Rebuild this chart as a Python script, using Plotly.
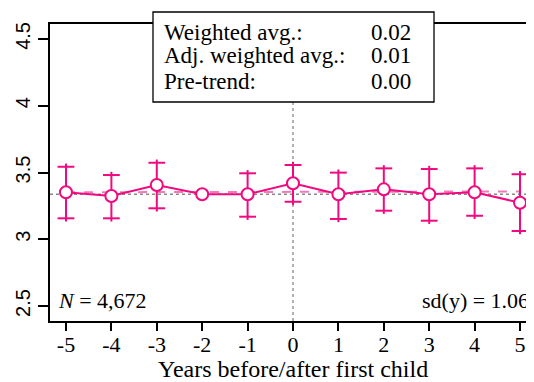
import plotly.graph_objects as go

# ---- data ----
years = [-5, -4, -3, -2, -1, 0, 1, 2, 3, 4, 5]
estimate = [3.352, 3.324, 3.406, 3.337, 3.337, 3.419, 3.337, 3.374, 3.337, 3.352, 3.274]
ci_upper = [3.543, 3.481, 3.573, None, 3.494, 3.556, 3.499, 3.531, 3.526, 3.531, 3.487]
ci_lower = [3.157, 3.157, 3.232, None, 3.169, 3.281, 3.152, 3.214, 3.139, 3.176, 3.062]
reference_level = 3.337
trend_x = [-5, 5]
trend_y = [3.352, 3.358]
x_tick_vals = [-5, -4, -3, -2, -1, 0, 1, 2, 3, 4, 5]
x_tick_text = ["-5", "-4", "-3", "-2", "-1", "0", "1", "2", "3", "4", "5"]
y_tick_vals = [2.5, 3, 3.5, 4, 4.5]
y_tick_text = ["2.5", "3", "3.5", "4", "4.5"]
stat_labels = ["Weighted avg.:", "Adj. weighted avg.:", "Pre-trend:"]
stat_values = ["0.02", "0.01", "0.00"]
n_label = "<i>N</i> = 4,672"
sd_label = "sd(y) = 1.06"

PINK = "#F00A80"
SERIF = "Liberation Serif"
SANS = "Liberation Sans"
EXT = 0.024  # small overshoot of CI line past the cross-bar

ex, ey, up, dn, cx, cy = [], [], [], [], [], []
for x, y, hi, lo in zip(years, estimate, ci_upper, ci_lower):
    if hi is None:
        continue
    ex.append(x); ey.append(y)
    up.append(hi - y + EXT); dn.append(y - lo + EXT)
    cx += [x, x]; cy += [hi, lo]

fig = go.Figure()
# trend dashed line
fig.add_trace(go.Scatter(x=trend_x, y=trend_y, mode="lines",
                         line=dict(color="#F27AB8", width=2, dash="dash"),
                         showlegend=False, hoverinfo="skip"))
# CI vertical lines
fig.add_trace(go.Scatter(x=ex, y=ey, mode="markers", marker=dict(size=0.1, color=PINK, opacity=0),
                         error_y=dict(type="data", array=up, arrayminus=dn, symmetric=False,
                                      color=PINK, thickness=2, width=0),
                         showlegend=False, hoverinfo="skip"))
# CI cross-bars
fig.add_trace(go.Scatter(x=cx, y=cy, mode="markers",
                         marker=dict(symbol="line-ew", size=12, line=dict(color=PINK, width=2)),
                         showlegend=False, hoverinfo="skip"))
# estimates
fig.add_trace(go.Scatter(x=years, y=estimate, mode="lines+markers",
                         line=dict(color=PINK, width=2),
                         marker=dict(symbol="circle", size=12, color="white",
                                     line=dict(color=PINK, width=2)),
                         showlegend=False))

shapes = [
    dict(type="line", xref="x", yref="paper", x0=0, x1=0, y0=0, y1=1,
         line=dict(color="#888888", width=1.3, dash="dot"), layer="below"),
    dict(type="line", xref="paper", yref="y", x0=0, x1=1, y0=reference_level, y1=reference_level,
         line=dict(color="#888888", width=1.3, dash="dot"), layer="below"),
    dict(type="rect", xref="paper", yref="paper", x0=0.2128, x1=0.7934, y0=0.7374, y1=1.0404,
         line=dict(color="black", width=1.3), fillcolor="white", layer="above"),
]

annotations = []
line_y = [40, 63, 88]
for lab, val, by in zip(stat_labels, stat_values, line_y):
    py = (321 - (by - 7)) / 297
    annotations.append(dict(xref="paper", yref="paper", x=(162 - 50) / 484, y=py,
                            xanchor="left", yanchor="middle", text=lab, showarrow=False,
                            font=dict(family=SERIF, size=23, color="black")))
    annotations.append(dict(xref="paper", yref="paper", x=(413 - 50) / 484, y=py,
                            xanchor="right", yanchor="middle", text=val, showarrow=False,
                            font=dict(family=SERIF, size=23, color="black")))
annotations.append(dict(xref="paper", yref="paper", x=(56 - 50) / 484, y=(321 - 300) / 297,
                        xanchor="left", yanchor="middle", text=n_label, showarrow=False,
                        font=dict(family=SERIF, size=22, color="black")))
annotations.append(dict(xref="paper", yref="paper", x=(531 - 50) / 484, y=(321 - 300) / 297,
                        xanchor="right", yanchor="middle", text=sd_label, showarrow=False,
                        font=dict(family=SERIF, size=22, color="black")))
annotations.append(dict(xref="paper", yref="paper", x=(293 - 50) / 484, y=0,
                        xanchor="center", yanchor="middle", yshift=-48,
                        text="Years before/after first child", showarrow=False,
                        font=dict(family=SERIF, size=24, color="black")))

# page body has an 8px default margin, so the figure is sized 8px smaller
fig.update_layout(
    width=526, height=374,
    margin=dict(l=42, r=0, t=16, b=61),
    paper_bgcolor="white", plot_bgcolor="white",
    shapes=shapes, annotations=annotations,
    showlegend=False,
    xaxis=dict(range=[-5.352, 5.308], tickvals=x_tick_vals, ticktext=x_tick_text,
               showgrid=False, zeroline=False, showline=True, mirror=True,
               linecolor="black", linewidth=1.5, ticks="outside", ticklen=8,
               tickwidth=1.5, tickcolor="black", ticklabelstandoff=-5,
               tickfont=dict(family=SERIF, size=22, color="black")),
    yaxis=dict(range=[2.388, 4.612], tickvals=y_tick_vals, ticktext=y_tick_text,
               showgrid=False, zeroline=False, showline=True, mirror=False,
               linecolor="black", linewidth=1.5, ticks="outside", ticklen=10,
               tickwidth=1.5, tickcolor="black", tickangle=-90,
               tickfont=dict(family=SANS, size=20, color="black")),
)

fig.write_html("out.html")
